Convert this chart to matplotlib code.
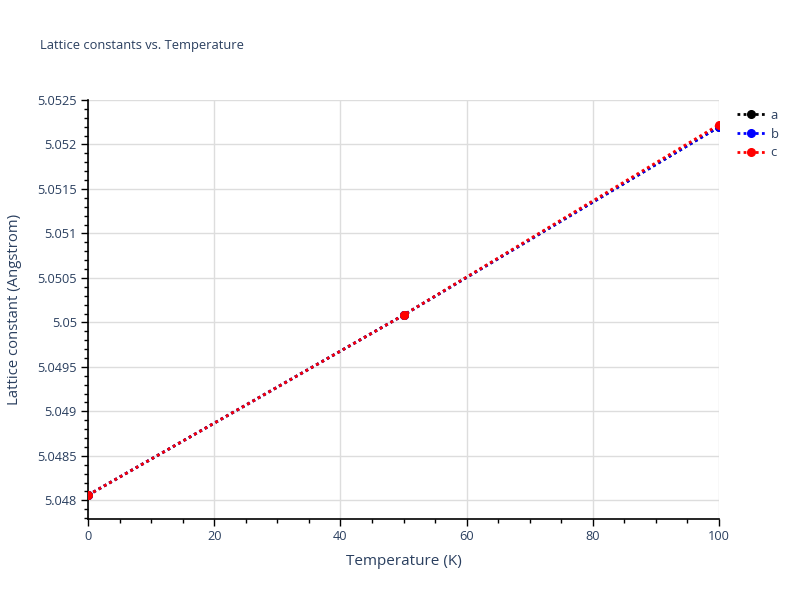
import matplotlib
matplotlib.use("Agg")
import matplotlib.pyplot as plt
from matplotlib.ticker import MultipleLocator, FuncFormatter
from matplotlib.lines import Line2D

temperature = [0, 50, 100]
a_vals = [5.048058, 5.050082, 5.052198]
b_vals = [5.048058, 5.050082, 5.052198]
c_vals = [5.048058, 5.050082, 5.052222]
series_names = ["a", "b", "c"]
series_colors = ["black", "blue", "red"]

plt.rcParams['font.family'] = ['Open Sans', 'DejaVu Sans']
txt = "#2a3f5f"

fig = plt.figure(figsize=(8, 6), dpi=100)
ax = fig.add_axes([0.11, 0.135, 0.78875, 0.69833])

for vals, name, col in zip([a_vals, b_vals, c_vals], series_names, series_colors):
    ax.plot(temperature, vals, linestyle=(0, (1, 1.2)), linewidth=2, color=col,
            marker='o', markersize=5.5, label=name, zorder=3)

ax.set_xlim(0, 100)
ax.set_ylim(5.04779, 5.0525)
ax.xaxis.set_major_locator(MultipleLocator(20))
ax.xaxis.set_minor_locator(MultipleLocator(5))
ax.yaxis.set_major_locator(MultipleLocator(0.0005))
ax.yaxis.set_minor_locator(MultipleLocator(0.0001))

def yfmt(v, p):
    s = f"{v:.4f}".rstrip('0').rstrip('.')
    return s
ax.yaxis.set_major_formatter(FuncFormatter(yfmt))
ax.xaxis.set_major_formatter(FuncFormatter(lambda v, p: f"{v:g}"))

ax.grid(True, which='major', color='#dddddd', linewidth=1, zorder=0)
ax.set_axisbelow(True)
for s in ['top', 'right']:
    ax.spines[s].set_visible(False)
for s in ['left', 'bottom']:
    ax.spines[s].set_color('black')
    ax.spines[s].set_linewidth(1.2)

ax.tick_params(which='major', direction='out', length=5, width=1, color='black',
               labelsize=9.2, labelcolor=txt, pad=3)
ax.tick_params(which='minor', direction='out', length=3, width=1, color='black')

ax.set_xlabel("Temperature (K)", fontsize=11, color=txt, labelpad=8)
ax.set_ylabel("Lattice constant (Angstrom)", fontsize=10.7, color=txt, labelpad=11)

fig.text(40/800, 1 - 45/600, "Lattice constants vs. Temperature", fontsize=9.3,
         color=txt, va='center', ha='left')

handles = [Line2D([0], [0], linestyle=(0, (1, 1.2)), linewidth=2, color=c,
                  marker='o', markersize=5.5) for c in series_colors]
fig.legend(handles, series_names, loc='upper left', bbox_to_anchor=(725/800, 1 - 97/600),
           frameon=False, fontsize=9.4, handlelength=2.2, handletextpad=0.4,
           labelspacing=0.45, labelcolor=txt)

fig.savefig("out.png", dpi=100)
